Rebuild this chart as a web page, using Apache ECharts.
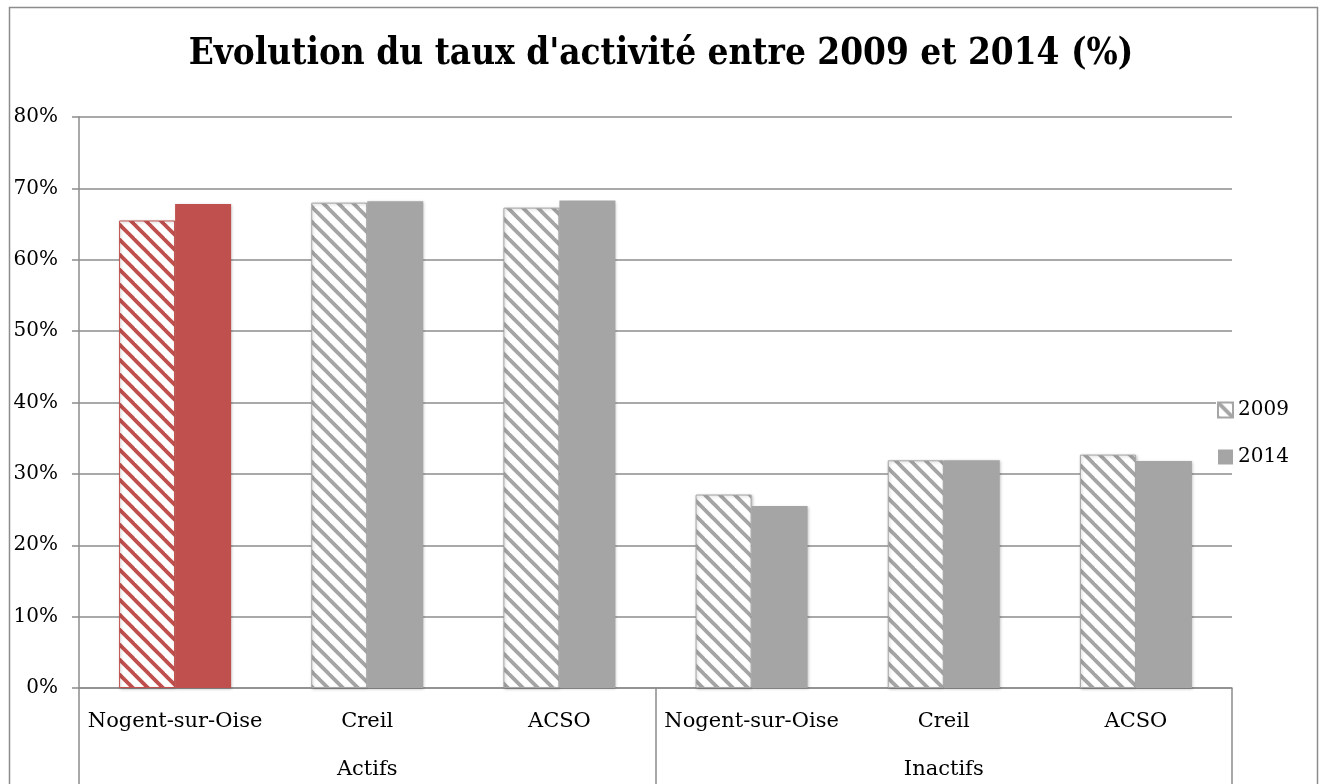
<!DOCTYPE html>
<html>
<head>
<meta charset="utf-8">
<title>Evolution du taux d'activité</title>
<script src="https://cdn.jsdelivr.net/npm/echarts@6/dist/echarts.min.js"></script>
<style>
  html, body { margin: 0; padding: 0; background: #fff; }
  #main { width: 1322px; height: 784px; }
</style>
</head>
<body>
<div id="main"></div>
<script>
// donnees
var categories = ['Nogent-sur-Oise', 'Creil', 'ACSO', 'Nogent-sur-Oise', 'Creil', 'ACSO'];
var groups = ['Actifs', 'Inactifs'];
var seriesNames = ['2009', '2014'];
var values2009 = [65.5, 68.0, 67.3, 27.1, 31.9, 32.7];
var values2014 = [67.8, 68.2, 68.3, 25.5, 31.9, 31.8];
var yTicks = [0, 10, 20, 30, 40, 50, 60, 70, 80];

var grey = '#a5a5a5';
var red = '#c0504d';
var lineColor = '#8c8c8c';
var font = 'DejaVu Serif';

// hachures diagonales
function stripes(color) {
	var s = 15;
	var c = document.createElement('canvas');
	c.width = s;
	c.height = s;
	var ctx = c.getContext('2d');
	ctx.fillStyle = '#fff';
	ctx.fillRect(0, 0, s, s);
	ctx.strokeStyle = color;
	ctx.lineWidth = 3.8;
	[-s, 0, s].forEach(function(o) {
		ctx.beginPath();
		ctx.moveTo(o - 2, -2);
		ctx.lineTo(o + s + 2, s + 2);
		ctx.stroke();
	});
	return { image: c, repeat: 'repeat' };
}

var shadow = {
	shadowBlur: 3,
	shadowColor: 'rgba(0,0,0,0.25)',
	shadowOffsetX: 1,
	shadowOffsetY: 1
};

var data2009 = values2009.map(function(v, i) {
	var style = i === 0 ? { color: stripes(red), borderColor: red } : {};
	return { value: v, itemStyle: style };
});
var data2014 = values2014.map(function(v, i) {
	var style = i === 0 ? { color: red } : {};
	return { value: v, itemStyle: style };
});

var myChart = echarts.init(document.getElementById('main'));
var option = {
	backgroundColor: '#fff',
	animation: false,
	title: {
		text: "Evolution du taux d'activité entre 2009 et 2014 (%)",
		left: 'center',
		top: 31,
		textStyle: { fontFamily: "'DejaVu Serif Condensed', 'DejaVu Serif'", fontWeight: 'bold', fontSize: 36.6, color: '#000' }
	},
	graphic: [{
		type: 'rect',
		shape: { x: 9.5, y: 7.5, width: 1308, height: 820 },
		style: { fill: 'none', stroke: lineColor, lineWidth: 1.5 },
		silent: true
	}],
	legend: {
		data: seriesNames,
		orient: 'vertical',
		left: 1216,
		top: 398,
		itemWidth: 15,
		itemHeight: 15,
		itemGap: 27,
		itemTextGap: 6,
		padding: [2, 2, 2, 1],
		backgroundColor: '#fff',
		icon: 'rect',
		textStyle: { fontFamily: font, fontSize: 20, color: '#000' }
	},
	grid: {
		left: 79,
		right: 90,
		top: 117,
		bottom: 96,
		containLabel: false,
		outerBoundsMode: 'none'
	},
	xAxis: [{
		type: 'category',
		data: categories,
		axisLine: { show: true, lineStyle: { color: lineColor, width: 1.5 } },
		axisTick: { show: false },
		axisLabel: { margin: 23, fontFamily: font, fontSize: 21, color: '#000', interval: 0 }
	}, {
		type: 'category',
		data: groups,
		position: 'bottom',
		axisLine: { show: false },
		axisTick: { show: true, length: 96, lineStyle: { color: lineColor, width: 1.5 } },
		axisLabel: { margin: 71, fontFamily: font, fontSize: 21, color: '#000' }
	}],
	yAxis: {
		type: 'value',
		min: yTicks[0],
		max: yTicks[yTicks.length - 1],
		interval: 10,
		axisLine: { show: true, lineStyle: { color: lineColor, width: 1.5 } },
		axisTick: { show: true, length: 7, lineStyle: { color: lineColor, width: 1.5 } },
		axisLabel: { margin: 21, formatter: '{value}%', fontFamily: font, fontSize: 20, color: '#000' },
		splitLine: { lineStyle: { color: lineColor, width: 1.5 } }
	},
	series: [{
		name: seriesNames[0],
		type: 'bar',
		xAxisIndex: 0,
		barWidth: 56,
		barGap: '0%',
		itemStyle: Object.assign({ color: stripes(grey), borderColor: grey, borderWidth: 1 }, shadow),
		data: data2009
	}, {
		name: seriesNames[1],
		type: 'bar',
		xAxisIndex: 0,
		barWidth: 56,
		barGap: '0%',
		itemStyle: Object.assign({ color: grey }, shadow),
		data: data2014
	}]
};
myChart.setOption(option);
</script>
</body>
</html>
